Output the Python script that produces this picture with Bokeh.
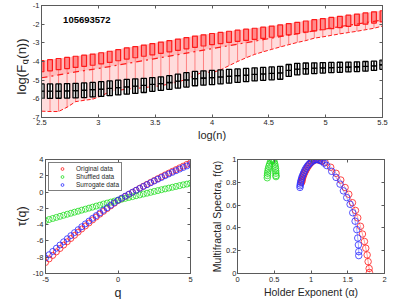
import numpy as np
from bokeh.plotting import figure
from bokeh.models import (FixedTicker, LinearAxis, Legend, LegendItem,
                          ColumnDataSource, Label)
from bokeh.layouts import column, row
from bokeh.embed import file_html
from bokeh.resources import INLINE
from bokeh.core.properties import value

FONT = "Liberation Sans"

# ---------------- top panel data: log(F_q(n)) vs log(n) ----------------
log_n = [2.5, 2.575, 2.65, 2.725, 2.8, 2.875, 2.95, 3.025, 3.1, 3.175, 3.25,
         3.325, 3.4, 3.475, 3.55, 3.625, 3.7, 3.775, 3.85, 3.925, 4.0, 4.075,
         4.15, 4.225, 4.3, 4.375, 4.45, 4.525, 4.6, 4.675, 4.75, 4.825, 4.9,
         4.975, 5.05, 5.125, 5.2, 5.275, 5.35, 5.425, 5.5]
orig_top = [-3.95, -3.9, -3.84, -3.78, -3.72, -3.66, -3.6, -3.53, -3.45, -3.36,
            -3.27, -3.2, -3.12, -3.04, -2.96, -2.88, -2.8, -2.72, -2.64, -2.57,
            -2.5, -2.44, -2.38, -2.32, -2.27, -2.22, -2.16, -2.1, -2.04, -1.97,
            -1.9, -1.83, -1.76, -1.7, -1.64, -1.58, -1.52, -1.46, -1.4, -1.34, -1.28]
orig_q0 = [-4.87, -4.8, -4.72, -4.64, -4.56, -4.49, -4.42, -4.35, -4.27, -4.19,
           -4.11, -4.03, -3.95, -3.87, -3.79, -3.71, -3.63, -3.55, -3.47, -3.39,
           -3.31, -3.23, -3.15, -3.07, -2.99, -2.91, -2.83, -2.75, -2.67, -2.59,
           -2.52, -2.44, -2.36, -2.28, -2.21, -2.13, -2.06, -1.99, -1.92, -1.85, -1.78]
orig_bot = [-6.66, -6.68, -6.68, -6.45, -6.15, -6.08, -6.02, -5.85, -5.62, -5.55,
            -5.48, -5.45, -5.4, -5.35, -5.3, -5.2, -5.1, -4.95, -4.75, -4.55,
            -4.6, -4.45, -4.22, -4.0, -3.8, -3.62, -3.48, -3.35, -3.22, -3.1,
            -2.98, -2.88, -2.75, -2.68, -2.6, -2.52, -2.45, -2.38, -2.3, -2.22, -2.1]
shuf_top = [-5.2, -5.2, -5.2, -5.18, -5.17, -5.15, -5.12, -5.08, -5.04, -5.0,
            -4.96, -4.93, -4.9, -4.86, -4.82, -4.76, -4.68, -4.6, -4.53, -4.5,
            -4.48, -4.45, -4.42, -4.4, -4.37, -4.34, -4.32, -4.29, -4.26, -4.16,
            -4.1, -4.08, -4.07, -4.06, -4.05, -4.04, -4.03, -4.02, -4.0, -3.98, -3.93]
shuf_bot = [-5.98, -5.98, -5.97, -5.96, -5.95, -5.93, -5.9, -5.87, -5.83, -5.79,
            -5.75, -5.71, -5.66, -5.6, -5.55, -5.49, -5.43, -5.37, -5.3, -5.27,
            -5.24, -5.2, -5.16, -5.12, -5.08, -5.04, -5.01, -4.98, -4.95, -4.8,
            -4.72, -4.68, -4.65, -4.62, -4.6, -4.58, -4.56, -4.54, -4.52, -4.48, -4.42]
series_id = "105693572"

# ---------------- bottom-left data: tau(q) ----------------
q = [-5, -4.75, -4.5, -4.25, -4, -3.75, -3.5, -3.25, -3, -2.75, -2.5, -2.25, -2,
     -1.75, -1.5, -1.25, -1, -0.75, -0.5, -0.25, 0, 0.25, 0.5, 0.75, 1, 1.25,
     1.5, 1.75, 2, 2.25, 2.5, 2.75, 3, 3.25, 3.5, 3.75, 4, 4.25, 4.5, 4.75, 5]
tau_orig = [-8.65, -8.21, -7.78, -7.35, -6.93, -6.51, -6.10, -5.70, -5.31, -4.92,
            -4.53, -4.16, -3.79, -3.42, -3.06, -2.71, -2.37, -2.03, -1.70, -1.37,
            -1.05, -0.79, -0.53, -0.28, -0.03, 0.22, 0.47, 0.71, 0.95, 1.19,
            1.42, 1.65, 1.88, 2.11, 2.33, 2.55, 2.76, 2.98, 3.19, 3.40, 3.60]
tau_shuf = [-3.50, -3.37, -3.24, -3.11, -2.98, -2.85, -2.72, -2.60, -2.47, -2.35,
            -2.22, -2.10, -1.97, -1.85, -1.72, -1.60, -1.47, -1.35, -1.23, -1.11,
            -0.99, -0.88, -0.77, -0.66, -0.56, -0.45, -0.35, -0.24, -0.14, -0.03,
            0.08, 0.18, 0.29, 0.39, 0.49, 0.59, 0.69, 0.79, 0.89, 0.98, 1.08]
tau_surr = [-8.10, -7.69, -7.29, -6.89, -6.50, -6.11, -5.73, -5.35, -4.98, -4.62,
            -4.26, -3.91, -3.56, -3.22, -2.89, -2.56, -2.23, -1.92, -1.61, -1.30,
            -1.00, -0.75, -0.50, -0.26, -0.02, 0.22, 0.46, 0.69, 0.91, 1.14,
            1.36, 1.58, 1.79, 2.01, 2.22, 2.42, 2.62, 2.82, 3.02, 3.21, 3.40]
legend_labels = ["Original data", "Shuffled data", "Surrogate data"]

# ---------------- bottom-right data: f(alpha) ----------------
alpha_orig = [0.873, 0.876, 0.88, 0.886, 0.894, 0.905, 0.917, 0.93, 0.945, 0.962,
              0.98, 1.0, 1.022, 1.045, 1.068, 1.09, 1.12, 1.15, 1.191, 1.268,
              1.341, 1.405, 1.464, 1.514, 1.564, 1.605, 1.636, 1.673, 1.7, 1.727,
              1.745, 1.764, 1.777, 1.791, 1.795]
f_orig = [0.80, 0.812, 0.825, 0.838, 0.855, 0.872, 0.89, 0.907, 0.924, 0.942,
          0.958, 0.972, 0.985, 0.995, 1.0, 0.998, 0.993, 0.987, 0.976, 0.932,
          0.879, 0.82, 0.754, 0.695, 0.621, 0.553, 0.488, 0.414, 0.346, 0.281,
          0.222, 0.163, 0.104, 0.044, 0.009]
alpha_shuf = [0.405, 0.407, 0.41, 0.414, 0.42, 0.428, 0.438, 0.45, 0.462, 0.475,
              0.488, 0.498, 0.507, 0.513, 0.517, 0.52, 0.522, 0.523, 0.524]
f_shuf = [0.84, 0.86, 0.88, 0.90, 0.92, 0.94, 0.96, 0.98, 0.993, 1.0,
          0.993, 0.98, 0.96, 0.94, 0.92, 0.90, 0.88, 0.86, 0.85]
alpha_surr = [0.85, 0.852, 0.855, 0.859, 0.865, 0.873, 0.883, 0.895, 0.906, 0.918,
              0.933, 0.95, 0.968, 0.986, 1.008, 1.032, 1.055, 1.077, 1.1, 1.122,
              1.145, 1.18, 1.214, 1.282, 1.341, 1.395, 1.441, 1.486, 1.532, 1.568,
              1.6, 1.623, 1.636, 1.645, 1.65, 1.65]
f_surr = [0.755, 0.77, 0.785, 0.80, 0.818, 0.837, 0.855, 0.873, 0.89, 0.908,
          0.925, 0.941, 0.955, 0.967, 0.98, 0.991, 0.997, 1.0, 0.998, 0.993,
          0.985, 0.968, 0.947, 0.896, 0.843, 0.784, 0.725, 0.666, 0.607, 0.533,
          0.459, 0.385, 0.311, 0.251, 0.192, 0.157]

RED = "#ff1a1a"
GREEN = "#22dd22"
BLUE = "#2a2aff"
AXC = "#5a5a5a"
TXT = "#262626"


def style(p, xt, yt, xover, yover, xlabel, xlabel_size, ylabel, ylabel_size):
    p.xgrid.visible = False
    p.ygrid.visible = False
    p.outline_line_color = AXC
    p.background_fill_color = "white"
    p.border_fill_color = "white"
    p.xaxis.ticker = FixedTicker(ticks=xt)
    p.yaxis.ticker = FixedTicker(ticks=yt)
    p.xaxis.major_label_overrides = xover
    p.yaxis.major_label_overrides = yover
    for ax in (p.xaxis[0], p.yaxis[0]):
        ax.axis_line_color = AXC
        ax.major_tick_line_color = AXC
        ax.major_tick_in = 3
        ax.major_tick_out = 0
        ax.minor_tick_line_color = None
        ax.major_label_text_font = FONT
        ax.major_label_text_font_size = "7.5px"
        ax.major_label_text_color = TXT
        ax.major_label_standoff = 3
        ax.axis_label_text_font = FONT
        ax.axis_label_text_font_style = "normal"
        ax.axis_label_text_color = TXT
        ax.axis_label_standoff = 1
    p.yaxis.major_label_standoff = 2
    p.xaxis.axis_label = xlabel
    p.xaxis.axis_label_text_font_size = xlabel_size
    if ylabel:
        p.yaxis.axis_label = ylabel
        p.yaxis.axis_label_text_font_size = ylabel_size
    # MATLAB-style box ticks on top and right
    for ticks, side in ((xt, "above"), (yt, "right")):
        ax = LinearAxis(ticker=FixedTicker(ticks=ticks),
                        major_label_overrides={t: "" for t in ticks},
                        major_label_text_font_size="1px",
                        major_label_standoff=0,
                        major_tick_in=3, major_tick_out=0,
                        minor_tick_line_color=None,
                        axis_line_color=AXC, major_tick_line_color=AXC)
        p.add_layout(ax, side)


# ---------------- y label strip for the top panel ----------------
ylab = figure(frame_width=29, frame_height=142, x_range=(0, 29),
              y_range=(0, 142), output_backend="svg", toolbar_location=None,
              x_axis_location=None, y_axis_location=None, min_border=0)
ylab.outline_line_color = None
ylab.xgrid.visible = False
ylab.ygrid.visible = False
for txt, xx, yy, fs in (("log(F", 20.5, 53.0, "13px"),
                        ("q", 24.0, 83.3, "9px"),
                        ("(n))", 20.5, 88.8, "13px")):
    ylab.text(x=[xx], y=[yy], text=[txt], angle=np.pi / 2,
              text_font=value(FONT), text_font_size=fs, text_color=TXT,
              text_align="left", text_baseline="middle")

# ---------------- top figure ----------------
p1 = figure(frame_width=341, frame_height=112, x_range=(2.5, 5.5),
            y_range=(-7, -1), output_backend="svg", toolbar_location=None,
            min_border_left=11, min_border_right=18, min_border_top=5,
            min_border_bottom=25)
xt1 = [2.5, 3, 3.5, 4, 4.5, 5, 5.5]
yt1 = [-7, -6, -5, -4, -3, -2, -1]
style(p1, xt1, yt1, {t: f"{t:g}" for t in xt1}, {t: f"{t:g}" for t in yt1},
      "log(n)", "11px", None, None)
p1.xaxis.major_label_standoff = 2

src1 = ColumnDataSource(dict(
    x=log_n, top=orig_top, mid=orig_q0, bot=orig_bot,
    cap=(np.array(orig_top) - 0.6).tolist(),
    stop=shuf_top, sbot=shuf_bot,
    smid=((np.array(shuf_top) + np.array(shuf_bot)) / 2).tolist()))

p1.varea(x="x", y1="bot", y2="top", source=src1, fill_color="#ffdcdc")
p1.varea(x="x", y1="mid", y2="top", source=src1, fill_color="#ffbcbc")
p1.segment(x0="x", y0="bot", x1="x", y1="top", source=src1,
           line_color="#ff8080", line_width=1)
p1.vbar(x="x", width=0.042, bottom="cap", top="top", source=src1,
        fill_color="#ff8a8a", line_color=RED, line_width=1.2)
p1.line(x="x", y="mid", source=src1, line_color=RED, line_width=1.2,
        line_dash="dashdot")
p1.line(x="x", y="bot", source=src1, line_color=RED, line_width=1,
        line_dash="4 2")
p1.vbar(x="x", width=0.046, bottom="sbot", top="smid", source=src1,
        fill_color="white", line_color="black", line_width=1.3)
p1.vbar(x="x", width=0.046, bottom="smid", top="stop", source=src1,
        fill_color="white", line_color="black", line_width=1.3)
p1.segment(x0="x", y0="sbot", x1="x", y1="stop", source=src1,
           line_color="black", line_width=1.5)

p1.add_layout(Label(x=2.69, y=-1.8, text=series_id, text_font=FONT,
                    text_font_size="9.5px", text_font_style="bold",
                    text_color="black", text_baseline="middle",
                    text_align="left"))

# ---------------- bottom-left figure ----------------
p2 = figure(frame_width=145, frame_height=114, x_range=(-5, 5),
            y_range=(-10, 4), output_backend="svg", toolbar_location=None,
            min_border_left=45, min_border_right=18, min_border_top=16,
            min_border_bottom=27)
xt2 = [-5, 0, 5]
yt2 = [-10, -8, -6, -4, -2, 0, 2, 4]
style(p2, xt2, yt2, {t: str(t) for t in xt2}, {t: str(t) for t in yt2},
      "q", "12.5px", "\u03c4(q)", "12.5px")
r_o = p2.scatter(q, tau_orig, marker="circle", size=6, fill_color=None,
                 line_color=RED, line_width=0.8)
r_s = p2.scatter(q, tau_shuf, marker="circle", size=6, fill_color=None,
                 line_color=GREEN, line_width=0.8)
r_u = p2.scatter(q, tau_surr, marker="circle", size=6, fill_color=None,
                 line_color=BLUE, line_width=0.8)
leg = Legend(items=[LegendItem(label=legend_labels[0], renderers=[r_o]),
                    LegendItem(label=legend_labels[1], renderers=[r_s]),
                    LegendItem(label=legend_labels[2], renderers=[r_u])],
             location="top_left", margin=3, padding=2, spacing=1,
             glyph_width=22, glyph_height=7, label_height=7,
             label_standoff=3, label_text_font=FONT,
             label_text_font_size="6.5px", label_text_color=TXT,
             border_line_color="black", border_line_width=0.8,
             background_fill_color="white", background_fill_alpha=1)
p2.add_layout(leg)

# ---------------- bottom-right figure ----------------
p3 = figure(frame_width=147, frame_height=114, x_range=(0, 2), y_range=(0, 1),
            output_backend="svg", toolbar_location=None,
            min_border_left=26, min_border_right=18, min_border_top=16,
            min_border_bottom=27)
xt3 = [0, 0.5, 1, 1.5, 2]
yt3 = [0, 0.2, 0.4, 0.6, 0.8, 1]
style(p3, xt3, yt3, {t: f"{t:g}" for t in xt3}, {t: f"{t:g}" for t in yt3},
      "Holder Exponent (\u03b1)", "10.5px",
      "Multifractal Spectra, f(\u03b1)", "10.5px")
p3.yaxis[0].major_label_standoff = 1
p3.yaxis[0].axis_label_standoff = 0
for a, f, c in ((alpha_orig, f_orig, RED), (alpha_shuf, f_shuf, GREEN),
                (alpha_surr, f_surr, BLUE)):
    p3.line(a, f, line_color=c, line_width=0.6, line_alpha=0.7)
    p3.scatter(a, f, marker="circle", size=6.5, fill_color=None,
               line_color=c, line_width=0.8)

layout = column(row(ylab, p1), row(p2, p3))
open("out.html", "w").write(file_html(layout, INLINE))
